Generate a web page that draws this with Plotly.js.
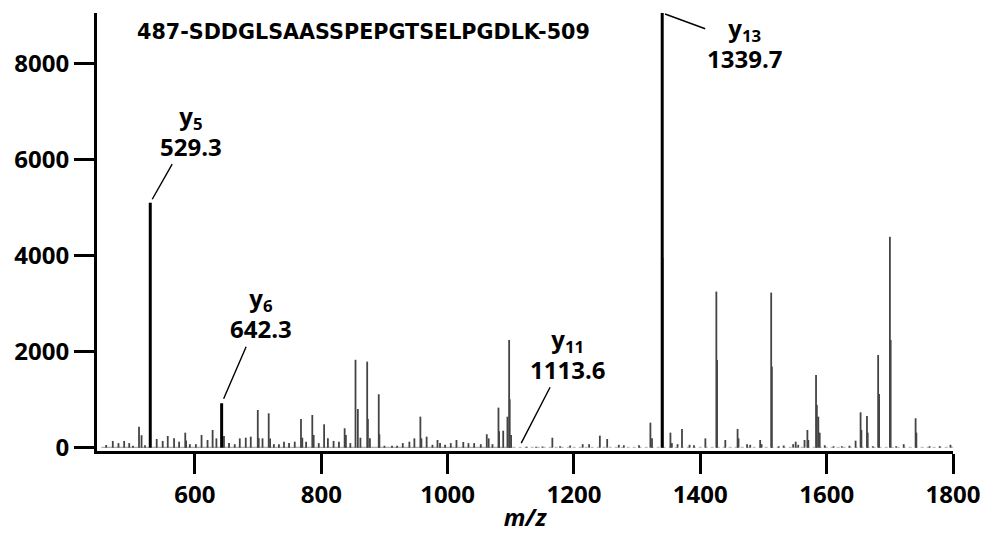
<!DOCTYPE html>
<html>
<head>
<meta charset="utf-8">
<script src="https://cdn.plot.ly/plotly-3.0.1.min.js"></script>
<style>html,body{margin:0;padding:0;background:#fff;}#chart{width:986px;height:533px;}</style>
</head>
<body>
<div id="chart"></div>
<script>
// ---- data ----
const peptideLabel = "487-SDDGLSAASSPEPGTSELPGDLK-509";

// unlabeled fragment peaks (m/z, intensity)
const peakMz = [459.5,470,479,488,496,502,511.5,515.5,521,539.5,549,557,567,575,584.7,586,592,601.5,610.5,620,628,634,646,654,663,671,680.5,688.4,699.5,701,707,716.8,719,725,733,741,749,758,767.9,770,776,785.8,788,796,804.5,810.5,819.5,828,837,839,846,854.2,857.9,862,872.7,873.8,877,891,892,900,912,920,929,939.5,947.4,956.9,958.5,966.8,976,984,988,996,1005,1014,1024.8,1033,1042,1052.5,1062,1065,1071,1080.5,1081.5,1088,1094.7,1097.4,1098.3,1100.5,1125,1140,1150,1165.8,1178,1194,1213.8,1224,1241,1252.6,1271,1279,1303,1321,1323.5,1340.3,1352.7,1355,1364,1371,1383,1390,1408,1425.4,1426.5,1439.6,1459,1460.5,1474,1479,1494.8,1497,1512.2,1513.3,1524,1532,1547,1551,1555,1565,1569.5,1571,1583.2,1584.5,1586.8,1589,1597,1611,1624,1636,1645.8,1653.7,1655,1663.8,1665,1673,1681.5,1683,1700.1,1701.3,1710,1722,1740.8,1742,1763,1779,1796];
const peakInt = [56,140,95,140,95,40,438,260,50,181,140,243,194,125,313,150,73,73,265,160,369,194,243,95,73,194,208,229,785,200,194,716,190,73,73,125,95,125,598,208,125,681,265,95,487,194,140,125,404,265,95,1830,806,208,1792,600,194,1112,280,40,40,40,95,125,194,646,194,229,60,160,95,60,95,160,118,95,95,73,280,194,73,834,340,354,646,2244,1008,265,20,20,25,208,30,45,73,73,250,181,60,50,50,521,194,3950,313,95,73,390,60,50,194,3250,1827,160,390,194,73,60,160,73,3229,1688,30,45,73,125,60,160,369,160,1515,890,646,313,50,30,30,40,146,737,369,660,313,30,1931,1119,4390,2244,30,73,612,313,30,30,60];

// labeled y-ions
const ionNames = ["y<sub>5</sub>","y<sub>6</sub>","y<sub>11</sub>","y<sub>13</sub>"];
const ionMz = [529.3, 642.3, 1113.6, 1339.7];
const ionInt = [5100, 925, 20, 9400];
const ionLabelMz = ["529.3","642.3","1113.6","1339.7"];

// baseline noise segments
const baseSolidX = [452, 1103];
const baseDotX = [1103, 1800];
const baseLevel = 8;

const xTicks = [600, 800, 1000, 1200, 1400, 1600, 1800];
const yTicks = [0, 2000, 4000, 6000, 8000];
const xRange = [445, 1800];
const yRange = [-69, 9050];

// ---- build stick traces ----
function sticks(xs, ys) {
  const X = [], Y = [];
  xs.forEach((x, i) => { X.push(x, x, null); Y.push(0, ys[i], null); });
  return {X, Y};
}
const s1 = sticks(peakMz, peakInt);
const strongIons = ionMz.map((m,i)=>i).filter(i => ionInt[i] > 100);
const s2 = sticks(strongIons.map(i=>ionMz[i]), strongIons.map(i=>ionInt[i]));

const traces = [
  {x: baseSolidX, y: [baseLevel, baseLevel], mode: 'lines', line: {color: '#9a9a9a', width: 1}, hoverinfo: 'skip'},
  {x: baseDotX, y: [baseLevel, baseLevel], mode: 'lines', line: {color: '#b0b0b0', width: 1, dash: 'dot'}, hoverinfo: 'skip'},
  {x: s1.X, y: s1.Y, mode: 'lines', line: {color: '#444', width: 1.8}, hoverinfo: 'skip'},
  {x: s2.X, y: s2.Y, mode: 'lines', line: {color: '#000', width: 3}, hoverinfo: 'skip'}
];

const tickFont = {family: '"Open Sans", sans-serif', size: 24, color: '#000', weight: 700};
const annFont = {family: '"Open Sans", sans-serif', size: 24, color: '#000', weight: 700};

// label offsets (pixels) from the peak top to the label centre
const labelDx = [41, 39, 48, 82];
const labelDy = [-72, -90, -93, 30];
const standoffs = [4, 5, 4, 3];

const annotations = ionMz.map((m, i) => ({
  x: m, y: Math.min(ionInt[i], yRange[1]), xref: 'x', yref: 'y',
  text: ionNames[i] + '<br>' + ionLabelMz[i],
  showarrow: true, arrowhead: 0, arrowwidth: 1.4, arrowcolor: '#000',
  ax: labelDx[i], ay: labelDy[i], standoff: standoffs[i],
  font: annFont
}));
annotations.push({
  x: 0.0442, y: 1.0, xref: 'paper', yref: 'paper', xanchor: 'left', yanchor: 'top',
  yshift: -5, text: peptideLabel, showarrow: false,
  font: {family: '"DejaVu Sans", sans-serif', size: 20.7, color: '#000', weight: 700}
});

const layout = {
  width: 986, height: 533,
  margin: {l: 97, r: 33, t: 13, b: 82},
  paper_bgcolor: '#fff', plot_bgcolor: '#fff',
  showlegend: false,
  xaxis: {
    range: xRange, tickvals: xTicks, ticktext: xTicks.map(String),
    showline: true, linewidth: 3, linecolor: '#000',
    ticks: 'outside', ticklen: 20, tickwidth: 3, tickcolor: '#000',
    showgrid: false, zeroline: false, tickfont: tickFont,
    title: {text: '<i>m/z</i>', font: {family: '"Open Sans", sans-serif', size: 24, color: '#000', weight: 700}, standoff: 2}
  },
  yaxis: {
    range: yRange, tickvals: yTicks, ticktext: yTicks.map(String),
    showline: true, linewidth: 3, linecolor: '#000',
    ticks: 'outside', ticklen: 20, tickwidth: 3, tickcolor: '#000',
    showgrid: false, zeroline: false, tickfont: tickFont
  },
  annotations: annotations
};

Plotly.newPlot('chart', traces, layout, {staticPlot: true});
</script>
</body>
</html>
